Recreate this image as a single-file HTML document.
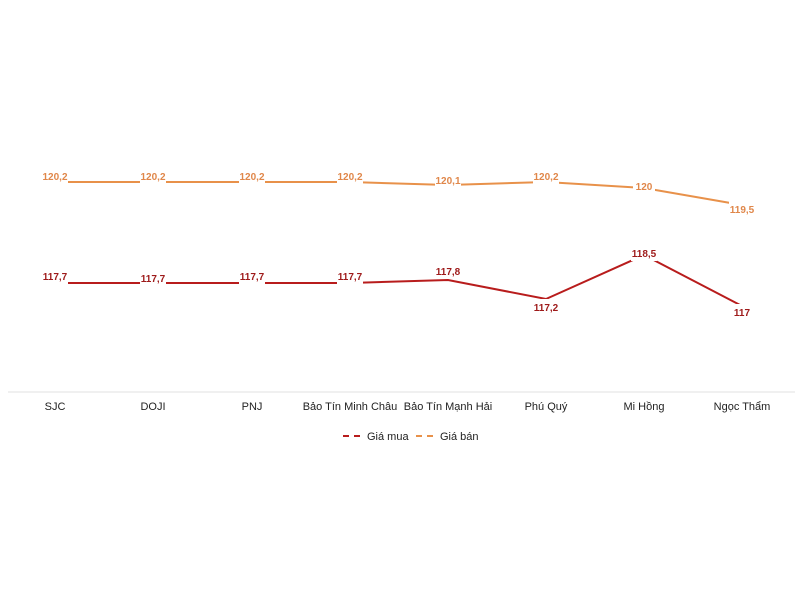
<!DOCTYPE html>
<html><head><meta charset="utf-8"><style>body{margin:0;background:#fff}svg{display:block}text{font-family:"Liberation Sans",sans-serif}</style></head><body>
<svg width="800" height="600" viewBox="0 0 800 600">
<line x1="8" y1="392" x2="795" y2="392" stroke="#e0e0e0" stroke-width="1"/>
<polyline fill="none" stroke="#e8914a" stroke-width="2" points="55,182 153,182 252,182 350,182 448,185 546,182 644,188 742,205"/>
<polyline fill="none" stroke="#b81c1c" stroke-width="2" points="55,283 153,283 252,283 350,283 448,280 546,299 644,255 742,306"/>
<g font-size="10" font-weight="bold" fill="#e0874a" text-anchor="middle">
<rect x="42" y="168" width="26" height="16" fill="#fff"/><text x="55" y="180">120,2</text>
<rect x="140" y="168" width="26" height="16" fill="#fff"/><text x="153" y="180">120,2</text>
<rect x="239" y="168" width="26" height="16" fill="#fff"/><text x="252" y="180">120,2</text>
<rect x="337" y="168" width="26" height="16" fill="#fff"/><text x="350" y="180">120,2</text>
<rect x="435" y="172" width="26" height="16" fill="#fff"/><text x="448" y="184">120,1</text>
<rect x="533" y="168" width="26" height="16" fill="#fff"/><text x="546" y="180">120,2</text>
<rect x="633" y="178" width="22" height="16" fill="#fff"/><text x="644" y="190">120</text>
<rect x="729" y="201" width="26" height="16" fill="#fff"/><text x="742" y="213">119,5</text>
</g>
<g font-size="10" font-weight="bold" fill="#9e1a1a" text-anchor="middle">
<rect x="42" y="268" width="26" height="16" fill="#fff"/><text x="55" y="280">117,7</text>
<rect x="140" y="270" width="26" height="16" fill="#fff"/><text x="153" y="282">117,7</text>
<rect x="239" y="268" width="26" height="16" fill="#fff"/><text x="252" y="280">117,7</text>
<rect x="337" y="268" width="26" height="16" fill="#fff"/><text x="350" y="280">117,7</text>
<rect x="435" y="263" width="26" height="16" fill="#fff"/><text x="448" y="275">117,8</text>
<rect x="533" y="299" width="26" height="16" fill="#fff"/><text x="546" y="311">117,2</text>
<rect x="631" y="245" width="26" height="16" fill="#fff"/><text x="644" y="257">118,5</text>
<rect x="733" y="304" width="18" height="16" fill="#fff"/><text x="742" y="316">117</text>
</g>
<g font-size="11" fill="#222" text-anchor="middle">
<text x="55" y="410">SJC</text><text x="153" y="410">DOJI</text><text x="252" y="410">PNJ</text>
<text x="350" y="410">Bảo Tín Minh Châu</text><text x="448" y="410">Bảo Tín Mạnh Hải</text>
<text x="546" y="410">Phú Quý</text><text x="644" y="410">Mi Hồng</text><text x="742" y="410">Ngọc Thẩm</text>
</g>
<line x1="343" y1="436" x2="365" y2="436" stroke="#b81c1c" stroke-width="2" stroke-dasharray="6,5"/>
<text x="367" y="440" font-size="11" fill="#222">Giá mua</text>
<line x1="416" y1="436" x2="438" y2="436" stroke="#e8914a" stroke-width="2" stroke-dasharray="6,5"/>
<text x="440" y="440" font-size="11" fill="#222">Giá bán</text>
</svg>
</body></html>
